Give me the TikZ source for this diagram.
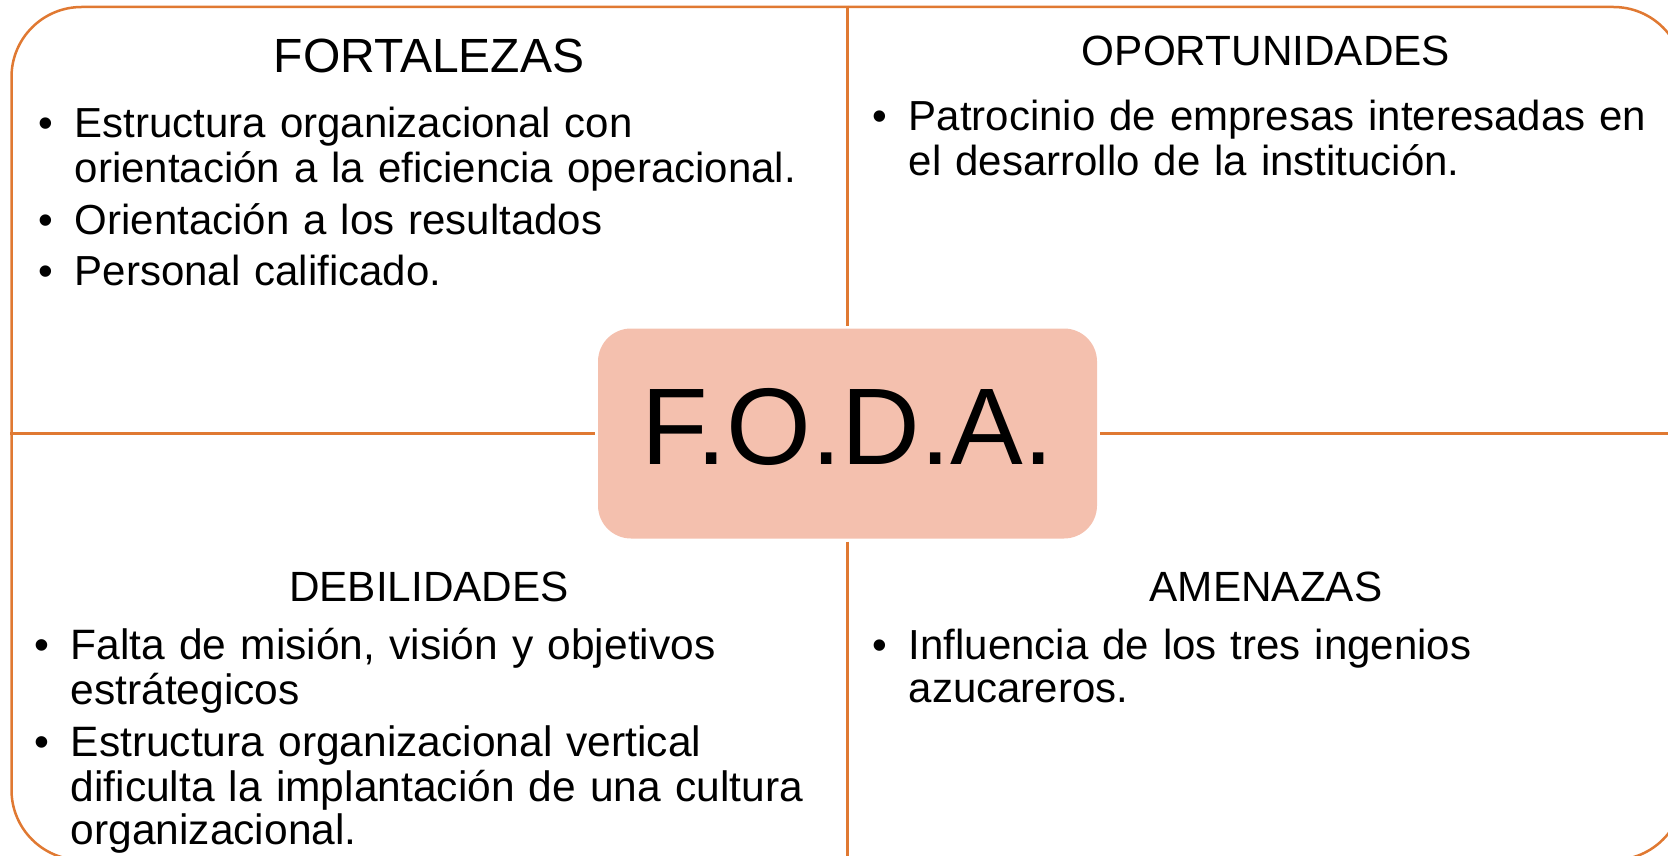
\documentclass[tikz,border=0pt]{standalone}
\usepackage{fontspec}
\setmainfont{Liberation Sans}
\usepackage{enumitem}
\usepackage{xcolor}
\usetikzlibrary{positioning}

\definecolor{fodaline}{RGB}{224,121,50}
\definecolor{fodafill}{RGB}{244,192,174}
\setlist[itemize]{label=\strut\textbullet, leftmargin=36.5pt, labelwidth=36.5pt, labelsep=0pt, labelindent=0pt, align=left, topsep=0pt, partopsep=0pt, parsep=0pt, itemsep=6.5pt}

\begin{document}
\begin{tikzpicture}[
    x=1pt, y=-1pt,
    frame/.style={rectangle, draw=fodaline, line width=2.5pt, rounded corners=70pt, minimum width=1672pt, minimum height=853pt},
    center/.style={rectangle, fill=fodafill, rounded corners=33pt, minimum width=499pt, minimum height=210pt, outer sep=3pt, text depth=15pt, font=\fontsize{109}{120}\selectfont},
    divider/.style={draw=fodaline, line width=2.5pt},
    title/.style={anchor=base, inner sep=0pt, font=\fontsize{42.3}{50}\selectfont},
    body/.style={anchor=north west, inner sep=0pt, text width=800pt, align=left, font=\fontsize{42}{43}\selectfont}
]
\useasboundingbox (0,0) rectangle (1668,856);
\clip (0,0) rectangle (1668,856);

\node[frame] (frame) at (847.5,433.5) {};
\node[center] (foda) at (847.5,433.5) {F.O.D.A.};

\draw[divider] (frame.north) -- (foda.north);
\draw[divider] (foda.south) -- (frame.south);
\draw[divider] (frame.west) -- (foda.west);
\draw[divider] (foda.east) -- (frame.east);

% fortalezas
\node[title, font=\fontsize{48}{50}\selectfont] (fort) at (429,73) {FORTALEZAS};
\node[body, font=\fontsize{42}{45}\selectfont] (fortlist) at (38,92.5) {
\begin{itemize}
\item Estructura organizacional con\\ orientación a la eficiencia operacional.
\item Orientación a los resultados
\item Personal calificado.
\end{itemize}
};

% oportunidades
\node[title] (oport) at (1266,66) {OPORTUNIDADES};
\node[body] (oportlist) at (872,87) {
\begin{itemize}
\item Patrocinio de empresas interesadas en\\ el desarrollo de la institución.
\end{itemize}
};

% debilidades
\node[title] (debil) at (429,601) {DEBILIDADES};
\node[body, font=\fontsize{42.5}{43}\selectfont] (debillist) at (34,616) {
\begin{itemize}[itemsep=9pt]
\item Falta de misión, visión y objetivos\\ estrátegicos
\item Estructura organizacional vertical\\ dificulta la implantación de una cultura\\ organizacional.
\end{itemize}
};

% amenazas
\node[title] (amen) at (1266,601) {AMENAZAS};
\node[body] (amenlist) at (872,616) {
\begin{itemize}
\item Influencia de los tres ingenios\\ azucareros.
\end{itemize}
};

\end{tikzpicture}
\end{document}
